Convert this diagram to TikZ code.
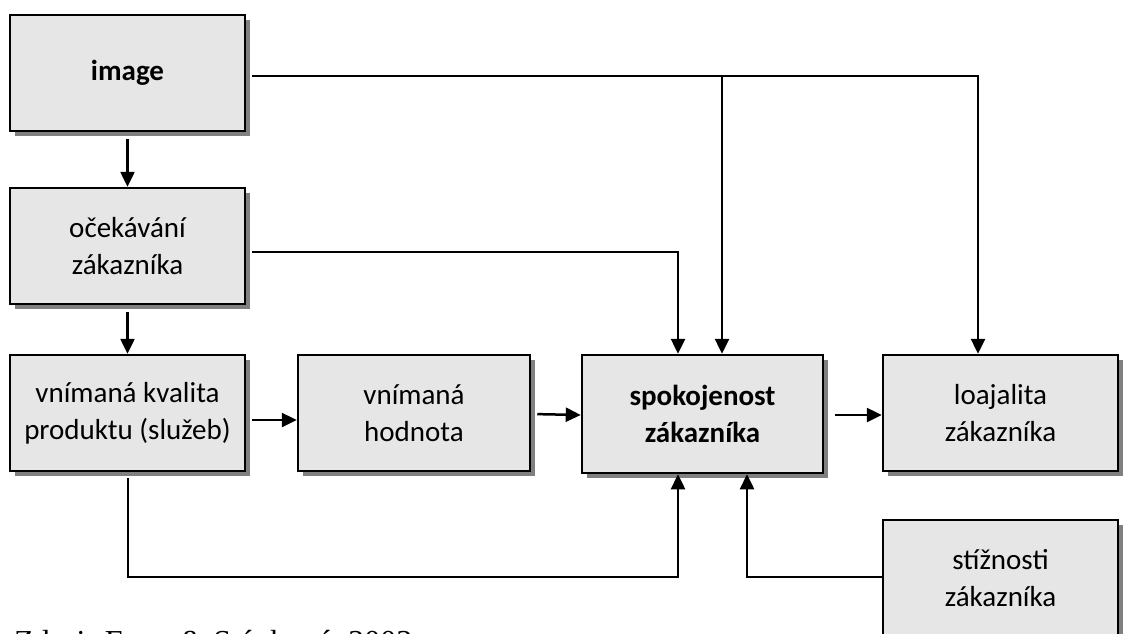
\documentclass[tikz,border=0pt]{standalone}
\usepackage{fontspec}
\setmainfont{Carlito}
\newfontfamily\capfont{Liberation Serif}
\usetikzlibrary{shadows,arrows.meta,calc}
\definecolor{boxgray}{HTML}{E6E6E6}
\definecolor{shadowgray}{HTML}{808080}
\begin{document}
\begin{tikzpicture}[x=1pt,y=-1pt,
  box/.style={draw=black, line width=2.5pt, fill=boxgray, minimum width=235pt,
    minimum height=116pt, inner sep=0pt, align=center,
    font=\fontsize{29}{37}\selectfont,
    drop shadow={shadow xshift=5pt, shadow yshift=-5pt, fill=shadowgray, opacity=1}},
  conn/.style={line width=2.5pt, draw=black},
  arr/.style={conn, -{Triangle[length=15pt,width=14pt]}}]
\useasboundingbox (0,0) rectangle (1123,633);
\clip (0,0) rectangle (1123,633);
% boxes
\node[box, font=\bfseries\fontsize{29}{37}\selectfont] (img) at (127.5,73) {image};
\node[box] (oce) at (127.5,246) {očekávání\\zákazníka};
\node[box] (kval) at (127.5,413) {vnímaná kvalita\\produktu (služeb)};
\node[box, minimum width=232pt] (hod) at (414,413) {vnímaná\\hodnota};
\node[box, minimum width=241pt, minimum height=118pt, font=\bfseries\fontsize{29}{37}\selectfont] (spok) at (702.5,414) {spokojenost\\zákazníka};
\node[box] (loaj) at (1000.5,413) {loajalita\\zákazníka};
\node[box] (stiz) at (1000.5,578) {stížnosti\\zákazníka};
% caption
\node[anchor=base west, inner sep=0pt, font=\capfont\fontsize{32}{38}\selectfont] (src) at (14,652) {Zdroj: Foret \& Stávková, 2003};
% junction coordinates
\coordinate (jimg) at (978,76);
\coordinate (jimg2) at (722,76);
\coordinate (joce) at (678,252);
\coordinate (jk1) at (128,577);
\coordinate (jk2) at (678,577);
\coordinate (js) at (747,577);
% connectors
\draw[arr, shorten <=7pt] (img.south) -- (oce.north);
\draw[arr, shorten <=7pt] (oce.south) -- (kval.north);
\draw[arr, shorten <=6pt] ($(kval.east)+(0,7)$) -- ($(hod.west)+(0,7)$);
\draw[arr, shorten <=6pt] ($(hod.east)+(0,1)$) -- ($(spok.west)+(0,1)$);
\draw[arr, shorten <=11pt] ($(spok.east)+(0,1)$) -- ($(loaj.west)+(0,2)$);
\draw[arr, shorten <=6pt] ($(img.east)+(0,3)$) -- (jimg) -- (jimg |- loaj.north);
\draw[arr] (jimg2) -- (jimg2 |- spok.north);
\draw[arr, shorten <=6pt] (oce.east |- joce) -- (joce) -- (joce |- spok.north);
\draw[arr, shorten <=6pt] (jk1 |- kval.south) -- (jk1) -- (jk2) -- (jk2 |- spok.south);
\draw[arr] (stiz.west |- js) -- (js) -- (js |- spok.south);
\end{tikzpicture}
\end{document}
